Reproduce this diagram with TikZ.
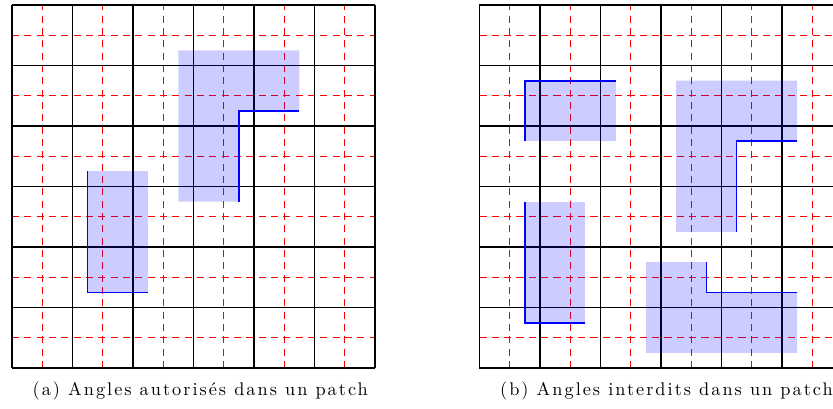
\documentclass[tikz,border=0pt]{standalone}
\usepackage{fontspec}
\newfontfamily\captfont{lmroman10-regular.otf}[LetterSpace=11]
\tikzset{
  cellgrid/.style={line width=0.8pt,draw=black},
  halfgrid/.style={line width=0.5pt,draw=red,dash pattern=on 3.3pt off 2.5pt},
  patch/.style={fill=blue,fill opacity=0.2},
  bord/.style={line width=0.8pt,draw=blue},
  capt/.style={anchor=base west,inner sep=0pt,font=\captfont\fontsize{8.6}{10}\selectfont},
}

\begin{document}
\begin{tikzpicture}
  \useasboundingbox (-0.198,-0.661) rectangle (13.57,6.083);

  % (a) left grid
  \begin{scope}
    \foreach \i in {0.5,1.5,...,5.5} {
      \draw[halfgrid] (\i,0) -- (\i,6);
      \draw[halfgrid] (0,\i) -- (6,\i);
    }
    \draw[cellgrid] (0,0) grid (6,6);
    \fill[patch] (2.75,5.25) -- (4.75,5.25) -- (4.75,4.25) -- (3.75,4.25)
                 -- (3.75,2.75) -- (2.75,2.75) -- cycle;
    \draw[bord] (3.75,2.75) -- (3.75,4.25) -- (4.75,4.25);
    \fill[patch] (1.25,1.25) rectangle (2.25,3.25);
    \draw[bord] (1.25,3.25) -- (1.25,1.25) -- (2.25,1.25);
    \node[capt] (capa) at (0.335,-0.46) {(a)~Angles autorisés dans un patch};
  \end{scope}

  % (b) right grid
  \begin{scope}[xshift=7.727cm]
    \foreach \i in {0.5,1.5,...,5.5} {
      \draw[halfgrid] (\i,0) -- (\i,6);
      \draw[halfgrid] (0,\i) -- (6,\i);
    }
    \draw[cellgrid] (0,0) grid (6,6);
    \fill[patch] (0.75,3.75) rectangle (2.25,4.75);
    \draw[bord] (0.75,3.75) -- (0.75,4.75) -- (2.25,4.75);
    \fill[patch] (3.25,4.75) -- (5.25,4.75) -- (5.25,3.75) -- (4.25,3.75)
                 -- (4.25,2.25) -- (3.25,2.25) -- cycle;
    \draw[bord] (4.25,2.25) -- (4.25,3.75) -- (5.25,3.75);
    \fill[patch] (0.75,0.75) rectangle (1.75,2.75);
    \draw[bord] (0.75,2.75) -- (0.75,0.75) -- (1.75,0.75);
    \fill[patch] (2.75,1.75) -- (3.75,1.75) -- (3.75,1.25) -- (5.25,1.25)
                 -- (5.25,0.25) -- (2.75,0.25) -- cycle;
    \draw[bord] (3.75,1.75) -- (3.75,1.25) -- (5.25,1.25);
    \node[capt] (capb) at (0.335,-0.46) {(b)~Angles interdits dans un patch};
  \end{scope}
\end{tikzpicture}
\end{document}
